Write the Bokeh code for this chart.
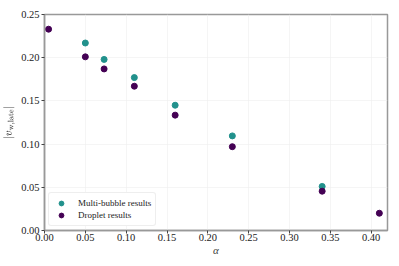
from bokeh.plotting import figure
from bokeh.models import Range1d, FixedTicker, Legend, LegendItem, NumeralTickFormatter
from bokeh.embed import file_html
from bokeh.resources import INLINE

# Data
multi_alpha = [0.05, 0.073, 0.11, 0.16, 0.23, 0.34]
multi_v = [0.217, 0.198, 0.177, 0.145, 0.1095, 0.051]
drop_alpha = [0.005, 0.05, 0.073, 0.11, 0.16, 0.23, 0.34, 0.41]
drop_v = [0.233, 0.201, 0.187, 0.167, 0.1335, 0.097, 0.0455, 0.020]
x_ticks = [0.00, 0.05, 0.10, 0.15, 0.20, 0.25, 0.30, 0.35, 0.40]
y_ticks = [0.00, 0.05, 0.10, 0.15, 0.20, 0.25]

TEAL = "#21918c"
PURPLE = "#440154"
FONT = "Liberation Serif"

p = figure(frame_width=343, frame_height=216, output_backend="svg",
           toolbar_location=None, x_range=Range1d(0, 0.42), y_range=Range1d(0, 0.25),
           min_border_left=30, min_border_right=3, min_border_top=14, min_border_bottom=20)

r1 = p.scatter(multi_alpha, multi_v, size=6, color=TEAL)
r2 = p.scatter(drop_alpha, drop_v, size=6, color=PURPLE)

p.xaxis.ticker = FixedTicker(ticks=x_ticks)
p.yaxis.ticker = FixedTicker(ticks=y_ticks)
p.xaxis.formatter = NumeralTickFormatter(format="0.00")
p.yaxis.formatter = NumeralTickFormatter(format="0.00")
for ax in (p.xaxis, p.yaxis):
    ax.major_label_text_font = FONT
    ax.major_label_text_font_size = "10.5px"
    ax.major_label_text_color = "#222222"
    ax.axis_label_text_font = FONT
    ax.axis_label_text_font_style = "normal"
    ax.axis_label_text_font_size = "11px"
    ax.axis_line_color = "#999999"
    ax.axis_line_width = 1.5
    ax.major_tick_line_color = "#444444"
    ax.major_tick_in = 0
    ax.major_tick_out = 3
    ax.minor_tick_line_color = None
    ax.major_label_standoff = 2
    ax.axis_label_standoff = 3

p.xaxis.major_label_standoff = 0
p.xaxis.axis_label_standoff = 0
p.xaxis.axis_label = "α"
p.xaxis.axis_label_text_font_style = "italic"
p.yaxis.axis_label = r"$$|v_{\mathrm{w,late}}|$$"

p.outline_line_color = "#999999"
p.outline_line_width = 1.5
p.xgrid.grid_line_color = "#eeeeee"
p.ygrid.grid_line_color = "#eeeeee"
p.xgrid.grid_line_width = 0.6
p.ygrid.grid_line_width = 0.6

legend = Legend(items=[LegendItem(label="Multi-bubble results", renderers=[r1]),
                       LegendItem(label="Droplet results", renderers=[r2])],
                location="bottom_left")
legend.label_text_font = FONT
legend.label_text_font_size = "9px"
legend.label_text_color = "#222222"
legend.border_line_color = "#dddddd"
legend.border_radius = 3
legend.margin = 4
legend.padding = 4
legend.spacing = 0
legend.label_height = 12
legend.glyph_height = 12
legend.glyph_width = 16
legend.label_standoff = 9
p.add_layout(legend)

open("out.html", "w").write(file_html(p, INLINE))
